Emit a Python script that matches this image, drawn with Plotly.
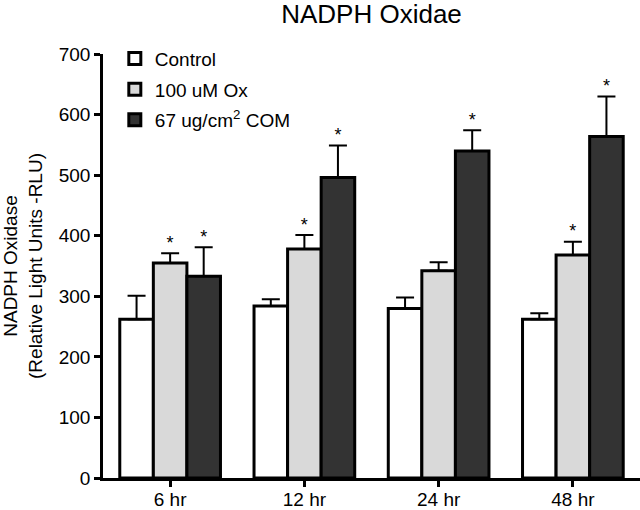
import plotly.graph_objects as go

categories = ["6 hr", "12 hr", "24 hr", "48 hr"]
series_names = ["Control", "100 uM Ox", "67 ug/cm<sup>2</sup> COM"]
control = [262, 284, 280, 262]
control_err = [39, 11, 18, 10]
ox = [355, 378, 342, 368]
ox_err = [16, 23, 14, 22]
com = [333, 496, 540, 564]
com_err = [48, 53, 34, 66]
ox_sig = [True, True, False, True]
com_sig = [True, True, True, True]
colors = ["#ffffff", "#d9d9d9", "#333333"]

FONT = "Liberation Sans, Arial, Helvetica, sans-serif"
xpos = list(range(len(categories)))
width = 0.25
offsets = [-0.375, -0.125, 0.125]

fig = go.Figure()
data = [(control, control_err, None), (ox, ox_err, ox_sig), (com, com_err, com_sig)]
for i, (vals, errs, sig) in enumerate(data):
    fig.add_trace(go.Bar(
        x=xpos, y=vals, width=width, offset=offsets[i],
        name=series_names[i], legendgroup="g%d" % i,
        marker=dict(color=colors[i], line=dict(color="black", width=3)),
        error_y=dict(type="data", symmetric=False, array=errs,
                     arrayminus=[0] * len(errs), color="black",
                     thickness=2, width=9),
    ))
    if sig is not None:
        sx = [x + offsets[i] + width / 2 for x, s in zip(xpos, sig) if s]
        sy = [v + e for v, e, s in zip(vals, errs, sig) if s]
        fig.add_trace(go.Scatter(
            x=sx, y=sy, mode="text", text=["*"] * len(sx),
            textposition="top center", showlegend=False,
            textfont=dict(size=18, color="black", family=FONT),
            hoverinfo="skip",
        ))

fig.update_layout(
    width=640, height=510,
    margin=dict(l=103, r=0, t=54, b=32, autoexpand=False),
    paper_bgcolor="white", plot_bgcolor="white",
    barmode="overlay",
    font=dict(family=FONT, size=19, color="black"),
    title=dict(text="NADPH Oxidae", x=0.5, xref="paper", y=0.972, yanchor="middle",
               font=dict(size=26, family=FONT, color="black")),
    showlegend=True,
    legend=dict(x=0.022, y=1.034, xanchor="left", yanchor="top",
                bgcolor="rgba(0,0,0,0)", font=dict(size=19, family=FONT),
                tracegroupgap=3, itemclick=False),
)
fig.update_xaxes(
    range=[-0.5, 3.5], tickvals=xpos, ticktext=categories,
    showline=True, linecolor="black", linewidth=2.5,
    ticks="outside", ticklen=6, tickwidth=2.5, tickcolor="black",
    ticklabelstandoff=-4,
    showgrid=False, zeroline=False, tickfont=dict(size=19),
)
fig.update_yaxes(
    range=[0, 700], dtick=100, tick0=0,
    showline=True, linecolor="black", linewidth=2.5,
    ticks="outside", ticklen=6, tickwidth=2.5, tickcolor="black",
    showgrid=False, zeroline=False, tickfont=dict(size=19),
    title=dict(text="NADPH Oxidase<br>(Relative Light Units -RLU)",
               font=dict(size=19), standoff=13),
)

fig.write_html("out.html",
               config={"displayModeBar": False},
               post_script="document.body.style.margin='0';document.body.style.overflow='hidden';")
